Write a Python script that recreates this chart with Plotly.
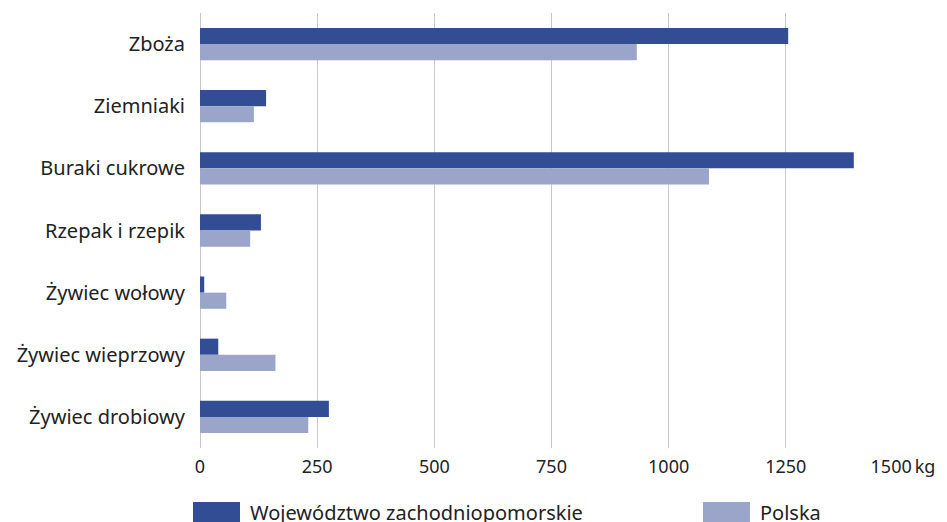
import plotly.graph_objects as go

categories = ["Zboża", "Ziemniaki", "Buraki cukrowe", "Rzepak i rzepik",
              "Żywiec wołowy", "Żywiec wieprzowy", "Żywiec drobiowy"]
zachodniopomorskie = [1255, 141, 1395, 130, 9, 39, 275]
polska = [932, 115, 1086, 107, 56, 161, 231]
series_names = ["Województwo zachodniopomorskie", "Polska"]
tick_values = [0, 250, 500, 750, 1000, 1250, 1500]
tick_labels = ["0", "250", "500", "750", "1000", "1250", "1500\u2009kg"]

dark = "#334D94"
light = "#9AA5C9"
font_family = "Noto Sans, Open Sans, sans-serif"
text_color = "#222222"

PL, PR, PT, PB = 200, 903, 13, 448  # plot area in pixels
W, H = 947, 522

fig = go.Figure()
fig.add_trace(go.Bar(y=categories, x=zachodniopomorskie, orientation="h",
                     name=series_names[0], marker=dict(color=dark, line=dict(width=0))))
fig.add_trace(go.Bar(y=categories, x=polska, orientation="h",
                     name=series_names[1], marker=dict(color=light, line=dict(width=0))))

fig.update_layout(
    width=W, height=H,
    margin=dict(l=PL, r=W - PR, t=PT, b=H - PB, autoexpand=False),
    barmode="group", bargap=0.48, bargroupgap=0,
    plot_bgcolor="white", paper_bgcolor="white",
    showlegend=False,
    font=dict(family=font_family, size=18, color=text_color),
)
fig.update_xaxes(range=[0, 1500], tickvals=tick_values, ticktext=tick_labels,
                 showgrid=True, gridcolor="#C8C8C8", gridwidth=1,
                 zeroline=True, zerolinecolor="#C8C8C8", zerolinewidth=1,
                 showline=False, ticks="", ticklabelstandoff=6, automargin=False,
                 tickfont=dict(size=18, color=text_color))
fig.update_yaxes(autorange="reversed", showgrid=False, showline=False, ticks="",
                 ticklabelstandoff=14, automargin=False,
                 tickfont=dict(size=20, color=text_color))

def px_x(px):
    return (px - PL) / (PR - PL)

def px_y(py):
    return (PB - py) / (PB - PT)

# manual legend
legend_items = [(series_names[0], dark, 193), (series_names[1], light, 703)]
for name, color, px in legend_items:
    fig.add_shape(type="rect", xref="paper", yref="paper",
                  x0=px_x(px), x1=px_x(px + 47), y0=px_y(502), y1=px_y(526),
                  fillcolor=color, line=dict(width=0), layer="above")
    fig.add_annotation(x=px_x(px + 55), xref="paper", y=px_y(512), yref="paper",
                       text=name, showarrow=False, xanchor="left", yanchor="middle",
                       font=dict(size=20, color=text_color))

fig.write_html("out.html", config={"displayModeBar": False},
               post_script="document.body.style.margin='0';document.body.style.overflow='hidden';")
